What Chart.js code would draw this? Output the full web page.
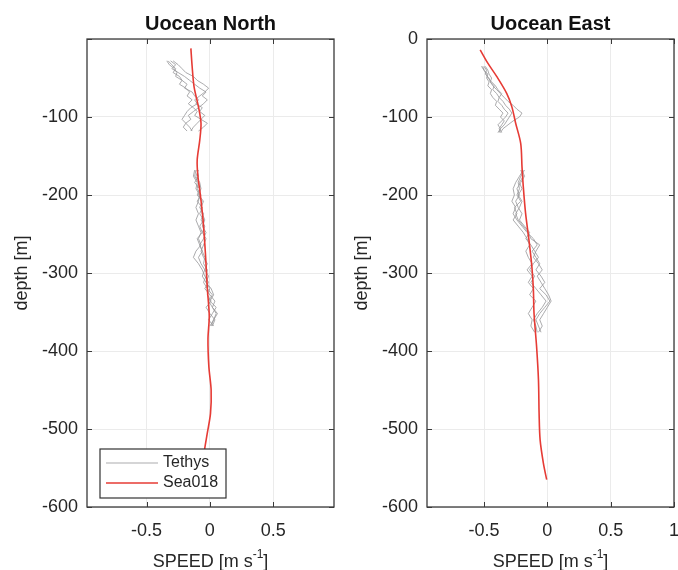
<!DOCTYPE html>
<html>
<head>
<meta charset="utf-8">
<script src="https://cdn.jsdelivr.net/npm/chart.js@4.4.1/dist/chart.umd.min.js"></script>
<style>
html,body{margin:0;padding:0;background:#fff;}
#wrap{position:relative;width:678px;height:570px;overflow:hidden;}
#left{position:absolute;left:0;top:0;}
#right{position:absolute;left:340px;top:0;}
</style>
</head>
<body>
<div id="wrap">
<canvas id="left" width="340" height="570"></canvas>
<canvas id="right" width="338" height="570"></canvas>
</div>
<script>
// axis ticks
const xTicks=[-0.5,0,0.5,1];
const yTicks=[-600,-500,-400,-300,-200,-100,0];

// Uocean North - Sea018
const northSeaDepth=[-12,-35,-61,-87,-108,-130,-155,-175,-200,-230,-275,-320,-355,-385,-420,-450,-480,-505,-530,-560,-570];
const northSeaSpeed=[-0.15,-0.14,-0.125,-0.09,-0.07,-0.08,-0.1,-0.095,-0.075,-0.055,-0.035,-0.02,-0.005,-0.015,-0.008,0.01,0.005,-0.02,-0.045,-0.06,-0.065];

// Uocean North - Tethys, upper profiles
const northTopDepth=[-28,-33,-38,-43,-48,-53,-58,-63,-68,-73,-78,-83,-88,-93,-98,-103,-108,-113,-118];
const northTopSpeed=[
[-0.33,-0.30,-0.27,-0.29,-0.24,-0.22,-0.18,-0.20,-0.14,-0.12,-0.09,-0.11,-0.06,-0.08,-0.04,-0.07,-0.10,-0.13,-0.15],
[-0.31,-0.27,-0.30,-0.25,-0.20,-0.16,-0.12,-0.08,-0.03,-0.06,-0.02,-0.05,-0.09,-0.13,-0.17,-0.15,-0.19,-0.16,-0.14],
[-0.34,-0.32,-0.28,-0.26,-0.27,-0.22,-0.24,-0.19,-0.16,-0.18,-0.14,-0.17,-0.13,-0.10,-0.12,-0.07,-0.02,-0.05,-0.09],
[-0.29,-0.25,-0.22,-0.19,-0.13,-0.10,-0.05,-0.01,-0.04,-0.08,-0.12,-0.10,-0.15,-0.18,-0.20,-0.22,-0.19,-0.21,-0.18]
];

// Uocean North - Tethys, lower profiles
const northMidDepth=[-168,-176,-184,-192,-200,-208,-216,-224,-232,-240,-248,-256,-264,-272,-280,-288,-296,-304,-312,-320,-328,-336,-344,-352,-360,-368];
const northMidSpeed=[
[-0.12,-0.13,-0.10,-0.11,-0.08,-0.09,-0.11,-0.09,-0.11,-0.09,-0.07,-0.09,-0.07,-0.11,-0.13,-0.09,-0.06,-0.04,-0.01,-0.04,0.00,0.04,0.02,0.05,0.03,0.01],
[-0.10,-0.09,-0.12,-0.08,-0.10,-0.06,-0.08,-0.05,-0.07,-0.04,-0.06,-0.03,-0.05,-0.07,-0.05,-0.02,-0.04,-0.01,-0.03,0.00,-0.02,0.01,-0.03,0.00,0.04,0.02],
[-0.11,-0.12,-0.09,-0.10,-0.07,-0.10,-0.06,-0.08,-0.05,-0.08,-0.06,-0.10,-0.08,-0.06,-0.09,-0.07,-0.04,-0.06,-0.03,0.01,0.03,0.00,0.05,0.02,-0.01,0.03],
[-0.09,-0.11,-0.08,-0.07,-0.09,-0.05,-0.07,-0.06,-0.04,-0.06,-0.03,-0.05,-0.08,-0.06,-0.04,-0.05,-0.02,-0.03,-0.05,-0.02,0.02,-0.01,0.02,0.06,0.03,0.00]
];

// Uocean East - Sea018
const eastSeaDepth=[-14,-31,-48,-70,-87,-108,-134,-164,-189,-223,-258,-292,-322,-352,-394,-437,-480,-514,-544,-565];
const eastSeaSpeed=[-0.53,-0.47,-0.40,-0.32,-0.28,-0.25,-0.21,-0.20,-0.19,-0.172,-0.145,-0.122,-0.11,-0.105,-0.085,-0.07,-0.065,-0.057,-0.031,-0.005];

// Uocean East - Tethys, upper profiles
const eastTopDepth=[-35,-40,-45,-50,-55,-60,-65,-70,-75,-80,-85,-90,-95,-100,-105,-110,-115,-120];
const eastTopSpeed=[
[-0.50,-0.48,-0.49,-0.46,-0.45,-0.43,-0.40,-0.37,-0.34,-0.31,-0.27,-0.24,-0.20,-0.22,-0.27,-0.31,-0.35,-0.37],
[-0.51,-0.50,-0.47,-0.48,-0.46,-0.47,-0.44,-0.45,-0.43,-0.40,-0.41,-0.38,-0.35,-0.37,-0.34,-0.36,-0.38,-0.36],
[-0.49,-0.47,-0.46,-0.44,-0.45,-0.42,-0.43,-0.40,-0.38,-0.39,-0.36,-0.34,-0.31,-0.33,-0.36,-0.39,-0.37,-0.38],
[-0.52,-0.50,-0.48,-0.47,-0.44,-0.41,-0.39,-0.36,-0.38,-0.35,-0.33,-0.30,-0.28,-0.30,-0.32,-0.34,-0.37,-0.39]
];

// Uocean East - Tethys, lower profiles
const eastMidDepth=[-168,-176,-184,-192,-200,-208,-216,-224,-232,-240,-248,-256,-264,-272,-280,-288,-296,-304,-312,-320,-328,-336,-344,-352,-360,-368,-376];
const eastMidSpeed=[
[-0.19,-0.22,-0.25,-0.27,-0.26,-0.28,-0.25,-0.27,-0.24,-0.20,-0.16,-0.11,-0.08,-0.12,-0.09,-0.06,-0.09,-0.05,-0.02,-0.06,-0.01,0.02,-0.02,-0.06,-0.09,-0.07,-0.05],
[-0.20,-0.18,-0.21,-0.24,-0.22,-0.25,-0.23,-0.20,-0.22,-0.18,-0.14,-0.17,-0.13,-0.10,-0.07,-0.11,-0.14,-0.10,-0.13,-0.09,-0.05,-0.01,-0.04,-0.08,-0.11,-0.09,-0.08],
[-0.18,-0.21,-0.23,-0.22,-0.24,-0.21,-0.26,-0.24,-0.27,-0.23,-0.19,-0.16,-0.14,-0.17,-0.15,-0.12,-0.16,-0.12,-0.15,-0.11,-0.14,-0.09,-0.12,-0.15,-0.12,-0.13,-0.10],
[-0.21,-0.19,-0.22,-0.20,-0.23,-0.20,-0.22,-0.25,-0.23,-0.19,-0.15,-0.13,-0.06,-0.09,-0.11,-0.07,-0.04,-0.08,-0.05,-0.02,0.01,0.03,0.00,-0.03,-0.06,-0.04,-0.07]
];

const FONT="'Liberation Sans', Arial, Helvetica, sans-serif";
const INK="#262626";
const GRAY="rgba(150,150,152,0.8)";
const RED="#e63b35";

function pts(depth,speed){
  return depth.map((d,i)=>({x:speed[i],y:d}));
}

function buildDatasets(seaDepth,seaSpeed,topDepth,topSpeed,midDepth,midSpeed){
  const sets=[{
    label:"Sea018",legend:true,data:pts(seaDepth,seaSpeed),
    borderColor:RED,borderWidth:1.6,tension:0.3,showLine:true,pointRadius:0,order:0
  }];
  let first=true;
  topSpeed.forEach(s=>{
    sets.push({label:first?"Tethys":"",legend:first,data:pts(topDepth,s),
      borderColor:GRAY,borderWidth:1,tension:0,showLine:true,pointRadius:0,order:1});
    first=false;
  });
  midSpeed.forEach(s=>{
    sets.push({label:"",legend:false,data:pts(midDepth,s),
      borderColor:GRAY,borderWidth:1,tension:0,showLine:true,pointRadius:0,order:1});
  });
  return sets;
}

// box, inward ticks, title, x label with superscript, legend
const framePlugin={
  id:"frame",
  afterDraw(chart,args,opts){
    const {ctx,chartArea:a,scales:{x,y}}=chart;
    ctx.save();
    ctx.strokeStyle="#3a3a3a";
    ctx.lineWidth=1.3;
    ctx.strokeRect(a.left,a.top,a.right-a.left,a.bottom-a.top);
    ctx.lineWidth=1;
    ctx.beginPath();
    xTicks.filter(v=>v>=x.min&&v<=x.max).forEach(v=>{
      const px=Math.round(x.getPixelForValue(v))+0.5;
      ctx.moveTo(px,a.bottom);ctx.lineTo(px,a.bottom-5);
      ctx.moveTo(px,a.top);ctx.lineTo(px,a.top+5);
    });
    yTicks.forEach(v=>{
      const py=Math.round(y.getPixelForValue(v))+0.5;
      ctx.moveTo(a.left,py);ctx.lineTo(a.left+5,py);
      ctx.moveTo(a.right,py);ctx.lineTo(a.right-5,py);
    });
    ctx.stroke();

    const cx=(a.left+a.right)/2;
    ctx.fillStyle="#111";
    ctx.font="bold 20px "+FONT;
    ctx.textAlign="center";
    ctx.textBaseline="alphabetic";
    ctx.fillText(opts.title,cx,30);

    // SPEED [m s^-1]
    ctx.fillStyle=INK;
    const main="SPEED [m s",sup="-1",end="]";
    ctx.font="18px "+FONT;
    const w1=ctx.measureText(main).width,w3=ctx.measureText(end).width;
    ctx.font="12px "+FONT;
    const w2=ctx.measureText(sup).width;
    let sx=cx-(w1+w2+w3)/2;
    ctx.textAlign="left";
    ctx.font="18px "+FONT;
    ctx.fillText(main,sx,567);
    ctx.font="12px "+FONT;
    ctx.fillText(sup,sx+w1,558);
    ctx.font="18px "+FONT;
    ctx.fillText(end,sx+w1+w2,567);

    if(opts.legend){
      const items=chart.data.datasets.filter(d=>d.legend).sort((p,q)=>q.order-p.order);
      const lx=a.left+13,ly=a.bottom-58,lw=126,lh=49;
      ctx.fillStyle="#fff";
      ctx.fillRect(lx,ly,lw,lh);
      ctx.strokeStyle="#333";
      ctx.lineWidth=1.2;
      ctx.strokeRect(lx,ly,lw,lh);
      ctx.font="16px "+FONT;
      ctx.textBaseline="middle";
      items.forEach((d,i)=>{
        const yy=ly+14+i*20;
        ctx.strokeStyle=d.borderColor;
        ctx.lineWidth=d.borderWidth;
        ctx.beginPath();ctx.moveTo(lx+6,yy);ctx.lineTo(lx+58,yy);ctx.stroke();
        ctx.fillStyle=INK;
        ctx.fillText(d.label,lx+63,yy);
      });
    }
    ctx.restore();
  }
};

function makeChart(id,datasets,xmin,xmax,rightPad,title,legend,hideX,hideY){
  return new Chart(document.getElementById(id),{
    type:"scatter",
    data:{datasets},
    options:{
      responsive:false,animation:false,devicePixelRatio:1,
      layout:{padding:{top:39,right:rightPad,left:0,bottom:0}},
      plugins:{legend:{display:false},tooltip:{enabled:false},frame:{title,legend}},
      scales:{
        x:{
          type:"linear",min:xmin,max:xmax,
          afterBuildTicks:s=>{s.ticks=xTicks.filter(v=>v<=xmax).map(v=>({value:v}));},
          afterFit:s=>{s.height=63;s.paddingLeft=0;s.paddingRight=0;},
          grid:{color:"#ebebeb",drawTicks:false},
          border:{display:false},
          ticks:{padding:13,color:INK,font:{family:FONT,size:18},maxRotation:0,autoSkip:false,
            callback:v=>hideX.includes(v)?"":String(v)}
        },
        y:{
          type:"linear",min:-600,max:0,
          afterBuildTicks:s=>{s.ticks=yTicks.map(v=>({value:v}));},
          afterFit:s=>{s.width=87;s.paddingTop=0;s.paddingBottom=0;},
          grid:{color:"#ebebeb",drawTicks:false},
          border:{display:false},
          title:{display:true,text:"depth [m]",color:INK,font:{family:FONT,size:18},padding:{top:11,bottom:0}},
          ticks:{padding:9,color:INK,font:{family:FONT,size:18},autoSkip:false,
            callback:v=>hideY.includes(v)?"":String(v)}
        }
      }
    },
    plugins:[framePlugin]
  });
}

makeChart("left",
  buildDatasets(northSeaDepth,northSeaSpeed,northTopDepth,northTopSpeed,northMidDepth,northMidSpeed),
  -0.97,0.98,6,"Uocean North",true,[1],[0]);
makeChart("right",
  buildDatasets(eastSeaDepth,eastSeaSpeed,eastTopDepth,eastTopSpeed,eastMidDepth,eastMidSpeed),
  -0.95,1,4,"Uocean East",false,[],[]);
</script>
</body>
</html>
